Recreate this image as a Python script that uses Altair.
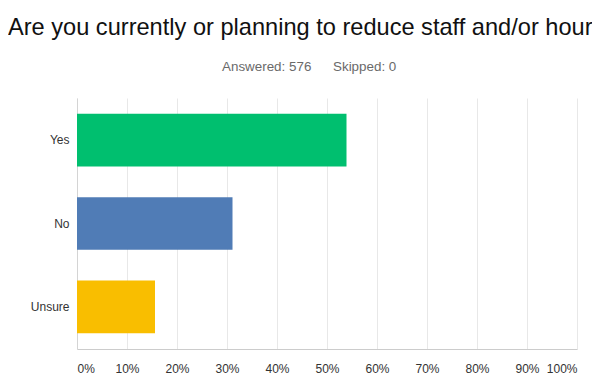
import altair as alt
import pandas as pd

# ---- data ----
categories = ["Yes", "No", "Unsure"]
shares = [0.539, 0.311, 0.156]
colors = ["#00bf6f", "#507cb6", "#f9be00"]
x_ticks = [0, 0.1, 0.2, 0.3, 0.4, 0.5, 0.6, 0.7, 0.8, 0.9, 1.0]
title_text = "Are you currently or planning to reduce staff and/or hours?"
answered = 576
skipped = 0

df = pd.DataFrame({"answer": categories, "share": shares})
hdr = pd.DataFrame({"label": [f"Answered: {answered}", f"Skipped: {skipped}"],
                    "px": [145, 256]})
ttl = pd.DataFrame({"label": [title_text]})

FONT = "Liberation Sans"

bars = alt.Chart(df).mark_bar().encode(
    x=alt.X("share:Q",
            scale=alt.Scale(domain=[0, 1], nice=False),
            axis=alt.Axis(values=x_ticks, format=".0%", title=None,
                          grid=True, gridColor="#e8e8e8", ticks=False,
                          domainColor="#cccccc", labelFlush=True,
                          labelPadding=14, labelFontSize=12,
                          labelColor="#333333", labelFont=FONT)),
    y=alt.Y("answer:N", sort=categories,
            scale=alt.Scale(paddingInner=0.37, paddingOuter=0.19),
            axis=alt.Axis(title=None, ticks=False, domain=True,
                          domainColor="#d4d4d4", labelPadding=8,
                          labelFontSize=12, labelColor="#333333",
                          labelFont=FONT)),
    color=alt.Color("answer:N", sort=categories,
                    scale=alt.Scale(domain=categories, range=colors),
                    legend=None),
)

header = alt.Chart(hdr).mark_text(
    align="left", baseline="alphabetic", fontSize=13.4,
    font=FONT, color="#6a6a6a"
).encode(
    x=alt.X("px:Q", scale=None),
    y=alt.value(-27),
    text="label:N",
)

title = alt.Chart(ttl).mark_text(
    align="left", baseline="alphabetic", fontSize=23.6,
    font=FONT, color="#111111"
).encode(
    x=alt.value(-69),
    y=alt.value(-63),
    text="label:N",
)

chart = alt.layer(bars, header, title).properties(
    width=500,
    height=251,
    padding={"left": 69, "top": 90, "right": 15, "bottom": 30},
    autosize=alt.AutoSizeParams(type="none"),
).configure_view(stroke=None)

chart.save("out.html", embed_options={"renderer": "svg", "actions": False})
